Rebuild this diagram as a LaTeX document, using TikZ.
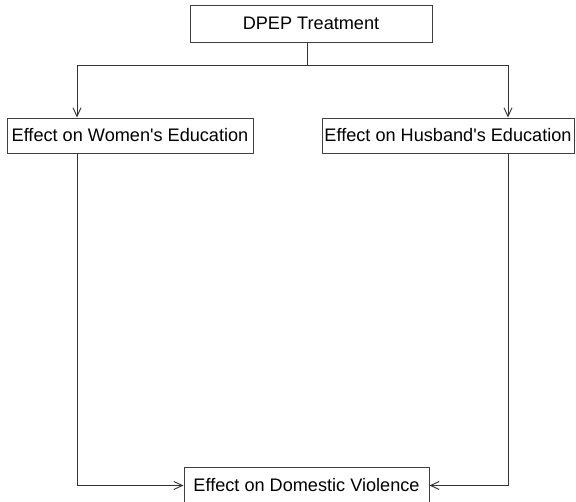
\documentclass[tikz,border=0pt]{standalone}
\usepackage{fontspec}
\setmainfont{Liberation Sans}
\usetikzlibrary{arrows.meta}
\tikzset{
	box/.style={draw=black!75, line width=0.7pt, inner sep=0pt, minimum height=26.25pt, font=\fontsize{13.6}{16}\selectfont},
	link/.style={draw=black!80, line width=0.7pt},
	arr/.style={link, -{Straight Barb[length=6.5pt,width=6pt]}}
}

\begin{document}
\begin{tikzpicture}[x=0.75pt,y=-0.75pt]
	% whole slide: 576 x 502
	\clip (0,0) rectangle (576,502);
	
	\node[box, minimum width=181.5pt, minimum height=27.75pt] (dpep) at (311,23.5) {DPEP Treatment};
	\node[box, minimum width=184.5pt] (women) at (130,135.5) {Effect on Women\textquotesingle s Education};
	\node[box, minimum width=189pt] (husband) at (448,135.5) {Effect on Husband\textquotesingle s Education};
	\node[box, minimum width=183.75pt, minimum height=27pt] (violence) at (306.5,485.5) {Effect on Domestic Violence};
	
	% split below the treatment
	\coordinate (fork) at (307,65);
	\draw[link] (dpep.south -| fork) -- (fork);
	\draw[arr] (fork) -| ([xshift=-39.75pt]women.north);
	\draw[arr] (fork) -| ([xshift=45pt]husband.north);
	
	% both paths into the outcome
	\draw[arr] ([xshift=-39.75pt]women.south) |- (violence.west);
	\draw[arr] ([xshift=45pt]husband.south) |- (violence.east);
\end{tikzpicture}
\end{document}
